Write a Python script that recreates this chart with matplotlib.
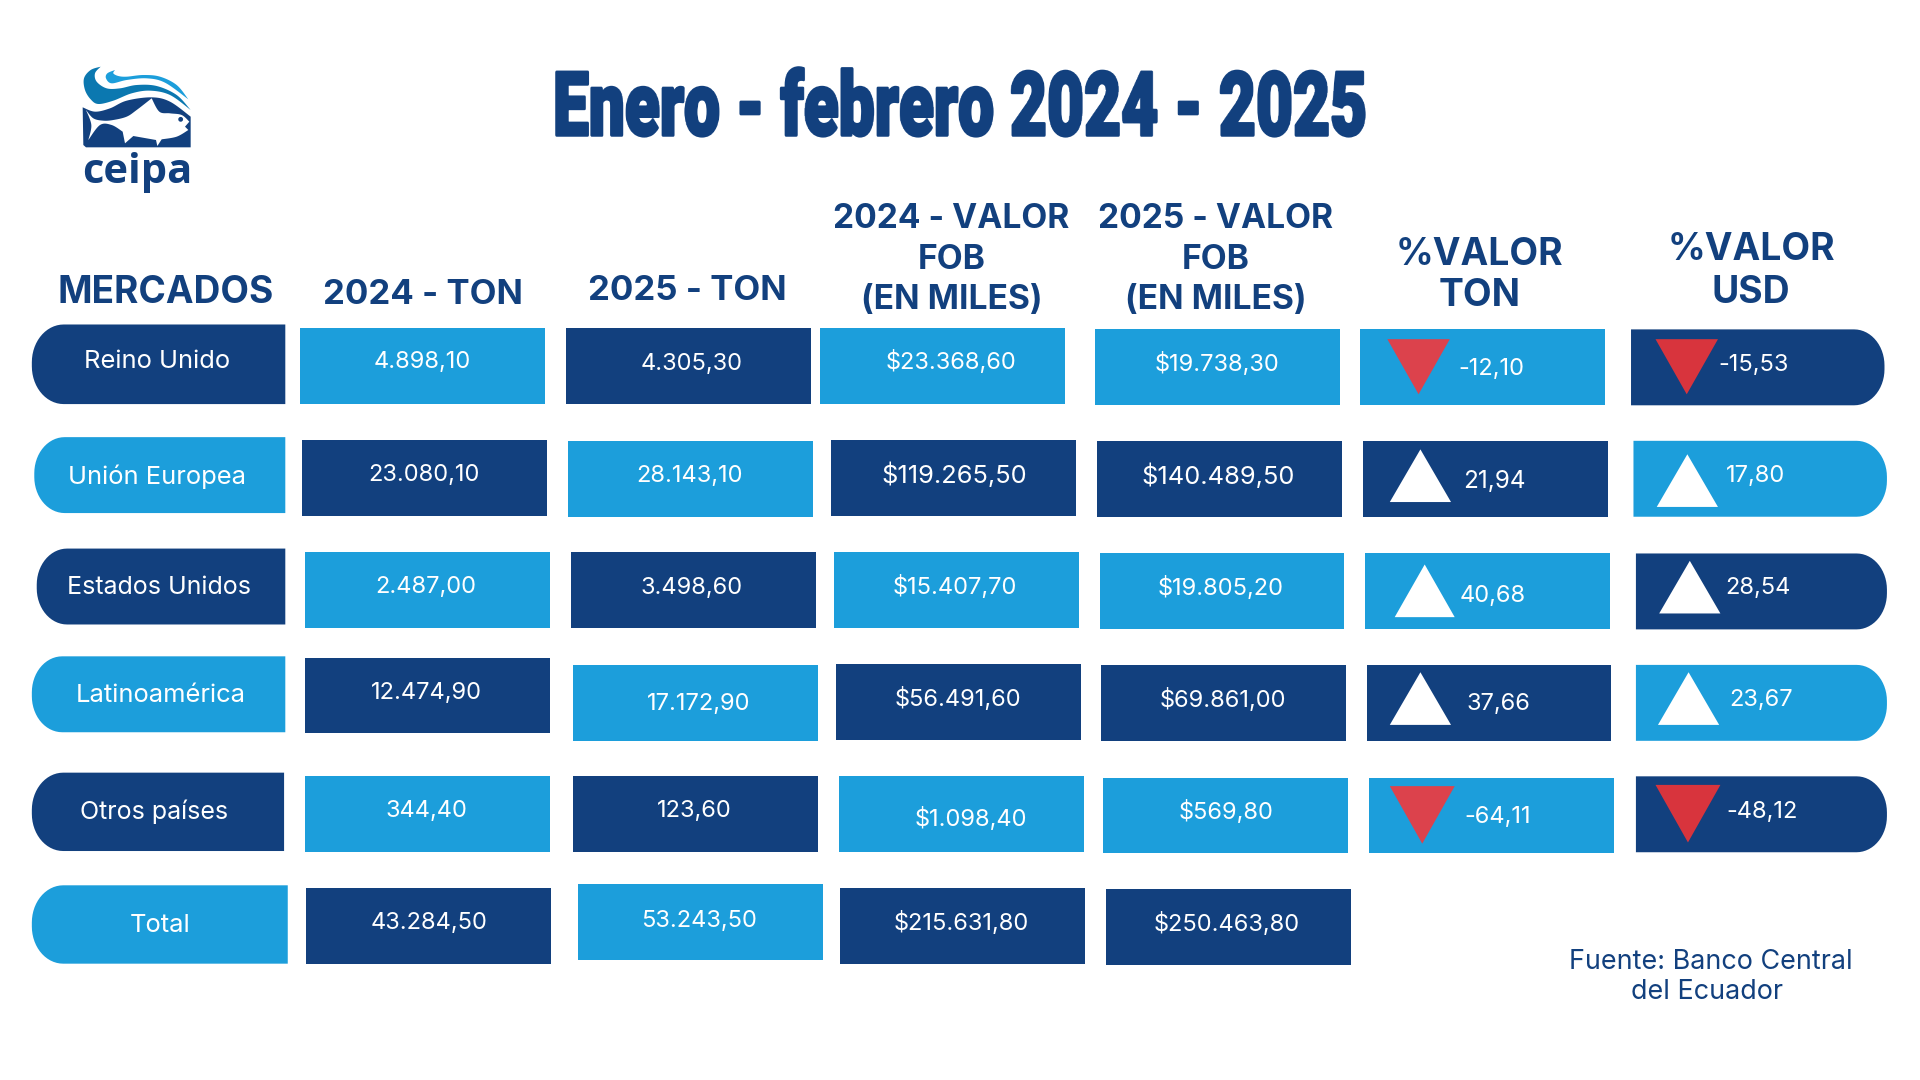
import numpy as np
import matplotlib
matplotlib.use("Agg")
import matplotlib.pyplot as plt
import matplotlib.patheffects as pe
from matplotlib.patches import Polygon, Circle

# data
mercados = ["Reino Unido", "Unión Europea", "Estados Unidos", "Latinoamérica", "Otros países", "Total"]
ton_2024 = [4898.10, 23080.10, 2487.00, 12474.90, 344.40, 43284.50]
ton_2025 = [4305.30, 28143.10, 3498.60, 17172.90, 123.60, 53243.50]
fob_2024 = [23368.60, 119265.50, 15407.70, 56491.60, 1098.40, 215631.80]
fob_2025 = [19738.30, 140489.50, 19805.20, 69861.00, 569.80, 250463.80]
var_ton = [-12.10, 21.94, 40.68, 37.66, -64.11]
var_usd = [-15.53, 17.80, 28.54, 23.67, -48.12]

DARK = "#12407E"
LIGHT = "#1C9EDB"
RED_LIGHT = "#DC424C"
RED_DARK = "#D8343D"
S = 1920 / 1568  # layout below was measured on a 1568 px wide view
DY = 2  # text nudge, same view

BODY = ["Inter", "Open Sans", "DejaVu Sans"]
TITLE = ["Roboto", "DejaVu Sans"]

# layout: edges of each cell per row
market_box = [(26, 233, 265, 330), (28, 233, 357, 419), (30, 233, 448, 510),
              (26, 233, 536, 598), (26, 232, 631, 695), (26, 235, 723, 787)]
cell_left = [[245, 462, 670, 894, 1111, 1332],
             [247, 464, 679, 896, 1113, 1334],
             [249, 466, 681, 898, 1115, 1336],
             [249, 468, 683, 899, 1116, 1336],
             [249, 468, 685, 901, 1118, 1336],
             [250, 472, 686, 903]]
cell_top = [[268, 268, 268, 269, 269, 269],
            [359, 360, 359, 360, 360, 360],
            [451, 451, 451, 452, 452, 452],
            [537, 543, 542, 543, 543, 543],
            [634, 634, 634, 635, 635, 634],
            [725, 722, 725, 726]]
cell_right_last = [1539, 1541, 1541, 1541, 1541]
cell_dark = [[0, 1, 0, 0, 0, 1],
             [1, 0, 1, 1, 1, 0],
             [0, 1, 0, 0, 0, 1],
             [1, 0, 1, 1, 1, 0],
             [0, 1, 0, 0, 0, 1],
             [1, 0, 1, 1]]
market_dark = [1, 0, 1, 0, 1, 0]
market_text = [(128, 293), (128, 387), (130, 478), (131, 566), (126, 661), (131, 754)]
market_size = [18.4, 18.4, 18, 18.4, 18, 18.4]
value_text = [[(345, 294), (565, 295), (777, 294), (994, 295), (1218, 299), (1432, 296)],
              [(346, 386), (563, 387), (779, 386), (995, 387), (1220, 391), (1434, 387)],
              [(348, 477), (565, 478), (780, 477), (997, 478), (1219, 485), (1436, 478)],
              [(348, 564), (571, 573), (782, 569), (999, 570), (1224, 573), (1438, 570)],
              [(348, 660), (567, 660), (793, 667), (1001, 661), (1223, 665), (1439, 661)],
              [(350, 752), (571, 750), (785, 752), (1002, 753)]]
value_size = [[17, 17, 17, 17, 17, 17],
              [17, 17, 18.3, 18.3, 17.5, 17],
              [17, 17, 17, 17, 17, 17],
              [17, 17, 17, 17, 17, 17],
              [17, 17, 17, 17, 17, 17],
              [17, 17, 17, 17]]
# x0, x1, flat side y, tip y
tri_ton = [(1133, 1184, 277, 322), (1135, 1185, 410, 367), (1139, 1188, 504, 461),
           (1135, 1185, 592, 549), (1135, 1188, 642, 689)]
tri_usd = [(1352, 1403, 277, 322), (1353, 1403, 414, 371), (1355, 1405, 501, 458),
           (1354, 1404, 592, 549), (1352, 1405, 641, 688)]
headers = [("MERCADOS", 135, [239], 26.7),
           ("2024 - TON", 345, [241], 25),
           ("2025 - TON", 561, [238], 25),
           ("2024 - VALOR\nFOB\n(EN MILES)", 777, [179, 212, 245], 24.2),
           ("2025 - VALOR\nFOB\n(EN MILES)", 993, [179, 212, 245], 24.2),
           ("%VALOR\nTON", 1208, [208, 242], 26.8),
           ("%VALOR\nUSD", 1430, [204, 239], 26.8)]


def es_num(v, prefix=""):
    # 4898.1 -> 4.898,10
    txt = f"{abs(v):,.2f}".replace(",", "#").replace(".", ",").replace("#", ".")
    return ("-" if v < 0 else "") + prefix + txt


def rounded_box(x0, x1, y0, y1, side):
    # box with one side rounded (slightly elliptical, as in the design)
    ry = (y1 - y0) * 0.5 * 0.95
    rx = (y1 - y0) * 0.5 * 0.8
    a = np.linspace(0, np.pi / 2, 16)
    if side == "left":
        pts = [(x1, y0), (x1, y1)]
        pts += [(x0 + rx - rx * np.sin(t), y1 - ry + ry * np.cos(t)) for t in a]
        pts += [(x0 + rx - rx * np.cos(t), y0 + ry - ry * np.sin(t)) for t in a]
    else:
        pts = [(x0, y1), (x0, y0)]
        pts += [(x1 - rx + rx * np.sin(t), y0 + ry - ry * np.cos(t)) for t in a]
        pts += [(x1 - rx + rx * np.cos(t), y1 - ry + ry * np.sin(t)) for t in a]
    return np.array(pts)


def draw_poly(ax, pts, color):
    ax.add_patch(Polygon(np.array(pts) * S, closed=True, facecolor=color, edgecolor="none"))


def smooth(pts, n=12):
    # open Catmull-Rom through the points, only used for the logo outline
    p = np.array(pts, dtype=float)
    p = np.vstack([p[0], p, p[-1]])
    out = []
    for i in range(1, len(p) - 2):
        for t in np.linspace(0, 1, n, endpoint=False):
            out.append(0.5 * (2 * p[i] + (p[i + 1] - p[i - 1]) * t
                              + (2 * p[i - 1] - 5 * p[i] + 4 * p[i + 1] - p[i + 2]) * t ** 2
                              + (3 * p[i] - p[i - 1] - 3 * p[i + 1] + p[i + 2]) * t ** 3))
    out.append(p[-2])
    return np.array(out)


def draw_logo(ax):
    def place(pts):
        return np.array(pts) / 3 + [70, 60]

    teal = np.vstack([
        smooth([(92, 20), (62, 30), (42, 55), (45, 90), (62, 118), (85, 132), (130, 122), (185, 100), (240, 92), (300, 105), (362, 150)]),
        smooth([(362, 150), (320, 105), (260, 78), (200, 75), (150, 85), (110, 85), (80, 65), (75, 40), (92, 20)])])
    blue = np.vstack([
        smooth([(135, 30), (112, 40), (108, 55), (125, 70), (170, 60), (230, 55), (285, 68), (355, 118)]),
        smooth([(355, 118), (320, 75), (270, 50), (220, 45), (170, 50), (145, 48), (130, 40), (135, 30)])])
    body = np.vstack([
        smooth([(38, 142), (75, 155), (120, 145), (170, 122), (245, 112), (300, 125), (362, 170)]),
        [(362, 262), (48, 262), (40, 255)]])
    fish = np.vstack([
        smooth([(48, 150), (70, 175), (100, 182), (130, 180), (170, 170), (200, 150), (245, 115)]),
        smooth([(245, 115), (268, 155), (300, 160), (335, 165), (358, 185)]),
        [(345, 200), (355, 210)],
        smooth([(355, 210), (320, 230), (275, 238)]),
        [(262, 258), (258, 240), (190, 228), (165, 250), (158, 215)],
        smooth([(158, 215), (125, 195), (90, 195), (55, 240)]),
        smooth([(55, 240), (64, 195), (48, 150)])])
    for pts, col in [(body, DARK), (teal, "#0B78B0"), (blue, LIGHT), (fish, "white")]:
        ax.add_patch(Polygon(place(pts), closed=True, facecolor=col, edgecolor="none"))
    ax.add_patch(Circle(place([(332, 178)])[0], 2.4, facecolor=DARK, edgecolor="none"))
    ax.text(137.5, 183, "ceipa", color=DARK, fontsize=30, fontweight="bold",
            family=["Open Sans", "DejaVu Sans"], ha="center", va="baseline")


def squeeze_x(factor):
    # agg filter: narrows the rendered text, there is no condensed display font here
    def _filter(img, dpi):
        h, w, c = img.shape
        new_w = max(1, int(round(w * factor)))
        xs = (np.arange(new_w) + 0.5) / factor - 0.5
        i0 = np.clip(np.floor(xs).astype(int), 0, w - 1)
        i1 = np.clip(i0 + 1, 0, w - 1)
        t = (xs - i0)[None, :, None]
        return img[:, i0, :] * (1 - t) + img[:, i1, :] * t, (w - new_w) // 2, 0
    return _filter


fig = plt.figure(figsize=(19.2, 10.8), dpi=100)
ax = fig.add_axes([0, 0, 1, 1])
ax.set_xlim(0, 1920)
ax.set_ylim(1080, 0)
ax.axis("off")

draw_logo(ax)

title = ax.text(961, 135, "Enero - febrero 2024 - 2025", color=DARK, fontsize=63.5, fontweight=900,
                family=TITLE, ha="center", va="baseline")
natural_w = title.get_window_extent(fig.canvas.get_renderer()).width
title.set_path_effects([pe.withStroke(linewidth=2.5, foreground=DARK)])
title.set_agg_filter(squeeze_x(815 / natural_w))

for label, xc, ys, size in headers:
    for line, y in zip(label.split("\n"), ys):
        ax.text(xc * S, y * S, line, color=DARK, fontsize=size, fontweight="bold", family=BODY,
                ha="center", va="center")

# first column
for i, name in enumerate(mercados):
    x0, x1, y0, y1 = market_box[i]
    col = DARK if market_dark[i] else LIGHT
    draw_poly(ax, rounded_box(x0, x1, y0, y1, "left"), col)
    ax.text(market_text[i][0] * S, (market_text[i][1] + DY) * S, name, color="white", fontsize=market_size[i],
            family=BODY, ha="center", va="center")

# value cells
columns = [ton_2024, ton_2025, fob_2024, fob_2025, var_ton, var_usd]
prefixes = ["", "", "$", "$", "", ""]
for i in range(len(mercados)):
    for j, left in enumerate(cell_left[i]):
        top = cell_top[i][j]
        col = DARK if cell_dark[i][j] else LIGHT
        if j == 5:
            draw_poly(ax, rounded_box(left, cell_right_last[i], top, top + 62, "right"), col)
        else:
            draw_poly(ax, [(left, top), (left + 200, top), (left + 200, top + 62), (left, top + 62)], col)
        ax.text(value_text[i][j][0] * S, (value_text[i][j][1] + DY) * S, es_num(columns[j][i], prefixes[j]),
                color="white", fontsize=value_size[i][j], family=BODY, ha="center", va="center")

# arrows follow the sign of the change
for vals, tris, red in [(var_ton, tri_ton, RED_LIGHT), (var_usd, tri_usd, RED_DARK)]:
    for v, (x0, x1, flat, tip) in zip(vals, tris):
        draw_poly(ax, [(x0, flat), (x1, flat), ((x0 + x1) / 2, tip)], "white" if v >= 0 else red)

ax.text(1397 * S, (784 + DY) * S, "Fuente: Banco Central", color=DARK, fontsize=19.4, family=BODY, ha="center", va="center")
ax.text(1394 * S, (808 + DY) * S, "del Ecuador", color=DARK, fontsize=19.4, family=BODY, ha="center", va="center")

fig.savefig("out.png", dpi=100, facecolor="white")
